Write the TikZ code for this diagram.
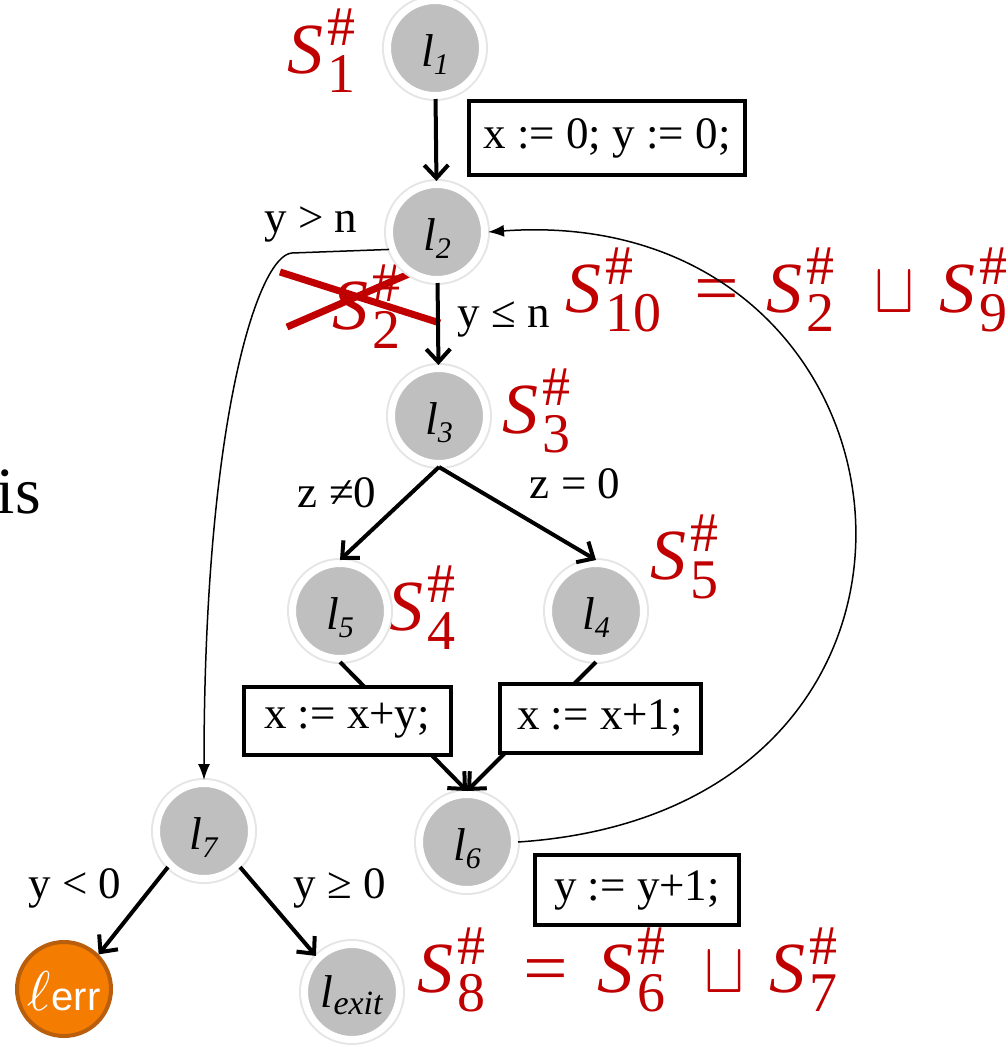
\documentclass[tikz,border=0pt]{standalone}
\usepackage{graphicx}
\usepackage{fontspec}
\setmainfont{Liberation Serif}
\setsansfont{Liberation Sans}
\usetikzlibrary{arrows.meta}
\definecolor{nodegray}{HTML}{BFBFBF}
\definecolor{sred}{HTML}{C00000}
\definecolor{errorange}{HTML}{F47C00}
\definecolor{errborder}{HTML}{B85E0C}
\newcommand\lname[1]{\fontsize{46}{50}\selectfont\textit{l}\raisebox{-8pt}{\fontsize{30}{32}\selectfont\textit{#1}}}
\newcommand\Sh[1]{\textit{S}\kern4pt\rlap{\raisebox{28pt}{\fontsize{56}{56}\selectfont\#}}\raisebox{-19pt}{\fontsize{56}{56}\selectfont #1}}
\newcommand\joinop{\resizebox{40pt}{40pt}{$\sqcup$}}
\begin{document}
\begin{tikzpicture}[x=1pt,y=-1pt,
  lnode/.style={circle, fill=nodegray, draw=white, line width=7pt, minimum size=95pt,
    inner sep=0pt, text height=36pt, text depth=0pt,
    preaction={draw=black!10, line width=11pt}},
  errnode/.style={circle, fill=errorange, draw=errborder, line width=4pt, minimum size=94pt,
    inner sep=0pt, text=white, text height=42pt, text depth=0pt},
  thickedge/.style={line width=4pt, -{Straight Barb[length=13pt,width=24pt]}},
  thinedge/.style={line width=1.5pt, -{Latex[length=16pt,width=12pt]}},
  box/.style={draw=black, line width=4pt, fill=white, inner sep=0pt,
    font=\fontsize{45}{48}\selectfont},
  elab/.style={font=\fontsize{45}{48}\selectfont, inner sep=0pt, anchor=base},
  slab/.style={text=sred, font=\fontsize{72}{80}\selectfont, inner sep=0pt, anchor=base west},
  xline/.style={draw=sred, line width=7pt}
]
\useasboundingbox (0,0) rectangle (1007,1045);

% red state labels (behind connectors)
\node[slab] (s1) at (287,73) {\Sh{1}};
\node[slab] (s2) at (332,329) {\Sh{2}};
\node[slab] (s10) at (565,312) {\Sh{10}\hspace{33pt}\scalebox{1.1}[1]{=}\hspace{28pt}\Sh{2}\hspace{40pt}\joinop\hspace{25pt}\Sh{9}};
\node[slab] (s3) at (502,433) {\Sh{3}};
\node[slab] (s5) at (650,579) {\Sh{5}};
\node[slab] (s4) at (387,630) {\Sh{4}};
\node[slab] (s8) at (417,992) {\Sh{8}\hspace{38pt}\scalebox{1.1}[1]{=}\hspace{30pt}\Sh{6}\hspace{39pt}\joinop\hspace{25pt}\Sh{7}};

% crossing out S2
\draw[xline] (280,272) -- (440,323);
\draw[xline] (287,327) -- (418,270);

% left fragment of text
\node[anchor=base east, inner sep=0pt, font=\fontsize{66}{70}\selectfont] (is) at (41,513) {is};

% locations
\node[lnode] (l1) at (435,48) {\lname{1}};
\node[lnode] (l2) at (437,232) {\lname{2}};
\node[lnode] (l3) at (439,416) {\lname{3}};
\node[lnode] (l5) at (340,611) {\lname{5}};
\node[lnode] (l4) at (596,611) {\lname{4}};
\node[lnode] (l6) at (467,842) {\lname{6}};
\node[lnode] (l7) at (204,831) {\lname{7}};
\node[lnode, text height=30pt] (lexit) at (352,992) {\fontsize{46}{50}\selectfont\textit{l}\raisebox{-7pt}{\fontsize{34}{36}\selectfont\textit{exit}}};
\node[errnode] (lerr) at (64,989) {\scalebox{5.6}{$\ell$}\kern1pt{\sffamily\fontsize{40}{44}\selectfont err}};

% connectors
\draw[thickedge] (l1) -- (l2);
\draw[thickedge] (l2) -- (l3);
\draw[thickedge] (l3.south) -- (l5.north);
\draw[thickedge] (l3.south) -- (l4.north);
\draw[thickedge] (l5.south) -- (l6.north);
\draw[thickedge] (l4.south) -- (l6.north);
\draw[thickedge] (l7.south west) -- (lerr.north east);
\draw[thickedge] (l7.south east) -- (lexit.north west);
\draw[thinedge] (l2.200) -- (292,253) .. controls (258,255) and (204,420) .. (l7.north);
\draw[thinedge] (l6.east) .. controls (1005,810) and (935,200) .. (l2.east);

% edge labels
\node[elab] (gyn) at (311,232) {y > n};
\node[elab] (gyle) at (504,327) {y ≤ n};
\node[elab] (gzne) at (337,507) {z ≠0};
\node[elab] (gzeq) at (575,498) {z = 0};
\node[elab] (gylt) at (75,898) {y < 0};
\node[elab] (gyge) at (340,898) {y ≥ 0};

% statement boxes
\node[box, minimum width=276pt, minimum height=74pt] (b1) at (607,138) {x := 0; y := 0;};
\node[box, minimum width=207pt, minimum height=68pt] (b2) at (347,721) {x := x+y;};
\node[box, minimum width=201pt, minimum height=69pt] (b3) at (600,718) {x := x+1;};
\node[box, minimum width=204pt, minimum height=70pt] (b4) at (637,890) {y := y+1;};
\end{tikzpicture}
\end{document}
